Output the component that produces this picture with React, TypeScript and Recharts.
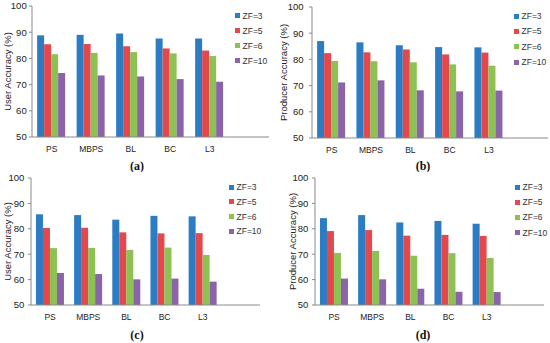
import React from "react";
import { BarChart, Bar, XAxis, YAxis, Legend } from "recharts";

const categories = ["PS", "MBPS", "BL", "BC", "L3"];
const seriesNames = ["ZF=3", "ZF=5", "ZF=6", "ZF=10"];
const seriesColors = ["#2C7CC3", "#E2484C", "#8DC153", "#8A63A8"];

const userA_zf3 = [88.8, 89.0, 89.5, 87.6, 87.6];
const userA_zf5 = [85.4, 85.5, 84.6, 83.8, 83.0];
const userA_zf6 = [81.6, 82.1, 82.4, 81.9, 80.9];
const userA_zf10 = [74.4, 73.5, 73.1, 72.1, 71.1];

const prodB_zf3 = [87.0, 86.5, 85.4, 84.7, 84.6];
const prodB_zf5 = [82.4, 82.7, 83.8, 81.9, 82.6];
const prodB_zf6 = [79.4, 79.3, 78.9, 78.1, 77.6];
const prodB_zf10 = [71.2, 72.0, 68.2, 67.8, 68.1];

const userC_zf3 = [85.7, 85.4, 83.6, 85.1, 84.9];
const userC_zf5 = [80.3, 80.4, 78.6, 78.2, 78.3];
const userC_zf6 = [72.4, 72.5, 71.7, 72.6, 69.7];
const userC_zf10 = [62.6, 62.2, 60.1, 60.4, 59.2];

const prodD_zf3 = [84.2, 85.4, 82.5, 83.1, 82.0];
const prodD_zf5 = [79.1, 79.5, 77.3, 77.6, 77.2];
const prodD_zf6 = [70.5, 71.3, 69.4, 70.4, 68.5];
const prodD_zf10 = [60.4, 60.1, 56.4, 55.2, 55.1];

const yTicks = [50, 60, 70, 80, 90, 100];
const userTitle = "User Accuracy (%)";
const prodTitle = "Producer Accuracy (%)";

const buildRows = (s: number[][]) =>
  categories.map((c, i) => ({
    cat: c,
    s0: s[0][i],
    s1: s[1][i],
    s2: s[2][i],
    s3: s[3][i],
  }));

const FONT = "'Liberation Sans', Arial, sans-serif";

type PanelCfg = {
  left: number;
  top: number;
  w: number;
  h: number;
  mTop: number;
  mRight: number;
  yWidth: number;
  xHeight: number;
  tickGap: number;
  titleX: number;
  title: string;
  caption: string;
  capX: number;
  capY: number;
  legX: number;
  legY: number;
  legStep: number;
  rows: any[];
};

const panels: PanelCfg[] = [
  {
    left: 0, top: 0, w: 275, h: 172, mTop: 6, mRight: 6, yWidth: 32, xHeight: 35,
    tickGap: 5.3, titleX: 7, title: userTitle, caption: "(a)", capX: 137, capY: 166,
    legX: 235, legY: 15.7, legStep: 15.1,
    rows: buildRows([userA_zf3, userA_zf5, userA_zf6, userA_zf10]),
  },
  {
    left: 275, top: 0, w: 275, h: 172, mTop: 7, mRight: 2, yWidth: 37, xHeight: 34,
    tickGap: 8.4, titleX: 8, title: prodTitle, caption: "(b)", capX: 148, capY: 166,
    legX: 239, legY: 16, legStep: 15.4,
    rows: buildRows([prodB_zf3, prodB_zf5, prodB_zf6, prodB_zf10]),
  },
  {
    left: 0, top: 172, w: 275, h: 171, mTop: 6, mRight: 15, yWidth: 31, xHeight: 38,
    tickGap: 6.7, titleX: 7, title: userTitle, caption: "(c)", capX: 137, capY: 163,
    legX: 229, legY: 15, legStep: 14.8,
    rows: buildRows([userC_zf3, userC_zf5, userC_zf6, userC_zf10]),
  },
  {
    left: 275, top: 172, w: 275, h: 171, mTop: 6, mRight: 6, yWidth: 40, xHeight: 38,
    tickGap: 6.7, titleX: 17, title: prodTitle, caption: "(d)", capX: 148, capY: 163,
    legX: 240, legY: 15.3, legStep: 15.1,
    rows: buildRows([prodD_zf3, prodD_zf5, prodD_zf6, prodD_zf10]),
  },
];

function Panel({ p }: { p: PanelCfg }) {
  const plotW = p.w - p.yWidth - p.mRight;
  const plotH = p.h - p.mTop - p.xHeight;
  const band = plotW / (categories.length + 1);
  const tickSize = 3;
  const legendContent = () => (
    <div style={{ position: "relative", width: 34, height: 70 }}>
      {seriesNames.map((name, i) => (
        <div
          key={name}
          style={{
            position: "absolute",
            left: 0,
            top: i * p.legStep,
            height: 10,
            display: "flex",
            alignItems: "center",
            fontFamily: FONT,
            fontSize: 8.5,
            color: "#333",
            whiteSpace: "nowrap",
            lineHeight: "10px",
          }}
        >
          <span style={{ display: "inline-block", width: 5, height: 5, background: seriesColors[i], marginRight: 2.5 }} />
          <span>{name}</span>
        </div>
      ))}
    </div>
  );
  return (
    <div style={{ position: "absolute", left: p.left, top: p.top, width: p.w, height: p.h }}>
      <BarChart
        width={p.w}
        height={p.h}
        data={p.rows}
        margin={{ top: p.mTop, right: p.mRight, left: 0, bottom: 0 }}
        barCategoryGap="13%"
        barGap={0}
      >
        <XAxis
          dataKey="cat"
          height={p.xHeight}
          padding={{ left: 0, right: band }}
          tickLine={false}
          tickSize={4}
          tickMargin={5}
          axisLine={{ stroke: "#8a8a8a", strokeWidth: 1 }}
          tick={{ fontSize: 8.5, fill: "#222", fontFamily: FONT }}
          interval={0}
          label={{
            content: () => (
              <text
                x={p.capX}
                y={p.capY}
                textAnchor="middle"
                dominantBaseline="central"
                style={{ fontFamily: "'Liberation Serif', 'Times New Roman', serif", fontWeight: "bold", fontSize: 12, fill: "#111" }}
              >
                {p.caption}
              </text>
            ),
          }}
        />
        <XAxis
          xAxisId="top"
          dataKey="cat"
          orientation="top"
          height={0}
          tick={false}
          tickLine={false}
          axisLine={{ stroke: "#a8a8a8", strokeWidth: 1 }}
        />
        <YAxis
          domain={[50, 100]}
          ticks={yTicks}
          width={p.yWidth}
          tickSize={tickSize}
          tickMargin={p.tickGap - tickSize}
          allowDataOverflow
          axisLine={{ stroke: "#8a8a8a", strokeWidth: 1 }}
          tickLine={{ stroke: "#8a8a8a" }}
          tick={{ fontSize: 9.5, fill: "#222", fontFamily: FONT }}
          label={{
            content: () => (
              <text
                x={p.titleX}
                y={p.mTop + plotH / 2}
                textAnchor="middle"
                dominantBaseline="central"
                transform={`rotate(-90, ${p.titleX}, ${p.mTop + plotH / 2})`}
                style={{ fontFamily: FONT, fontSize: 9.5, fill: "#222" }}
              >
                {p.title}
              </text>
            ),
          }}
        />
        <YAxis
          yAxisId="right"
          orientation="right"
          width={0}
          domain={[50, 100]}
          tick={false}
          tickLine={false}
          axisLine={{ stroke: "#a8a8a8", strokeWidth: 1 }}
        />
        <Legend
          layout="vertical"
          align="center"
          verticalAlign="middle"
          content={legendContent}
          wrapperStyle={{ position: "absolute", left: p.legX, top: p.legY - 5, width: 34, height: 70 }}
        />
        {seriesNames.map((name, i) => (
          <Bar
            key={name}
            dataKey={`s${i}`}
            name={name}
            fill={seriesColors[i]}
            isAnimationActive={false}
          />
        ))}
      </BarChart>
    </div>
  );
}

export default function App() {
  return (
    <div style={{ position: "absolute", left: 0, top: 0, width: 550, height: 343, background: "#fff", overflow: "hidden" }}>
      {panels.map((p, i) => (
        <Panel key={i} p={p} />
      ))}
    </div>
  );
}
